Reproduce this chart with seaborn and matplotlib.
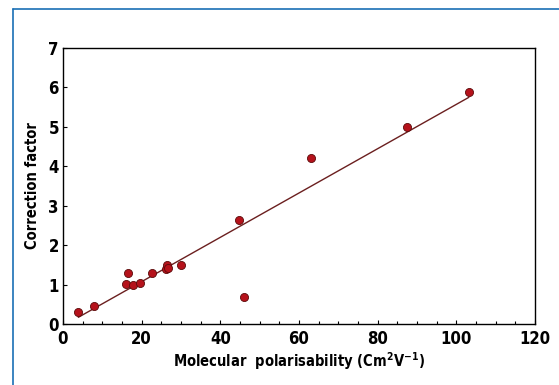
import numpy as np
import pandas as pd
import seaborn as sns
import matplotlib.pyplot as plt
from matplotlib.ticker import MultipleLocator
from matplotlib.lines import Line2D

# donnees
polarisability = [3.7, 8.0, 16.1, 16.5, 17.7, 19.6, 22.7, 26.1, 26.4, 26.6, 30.1, 44.7, 46.1, 63.0, 87.5, 103.2]
correction = [0.30, 0.46, 1.01, 1.29, 0.99, 1.05, 1.29, 1.39, 1.50, 1.43, 1.50, 2.65, 0.68, 4.20, 5.00, 5.89]

# droite de tendance (extremites)
fit_x = [3.9, 103.2]
fit_y = [0.17, 5.75]

df = pd.DataFrame({'x': polarisability, 'y': correction})
fit = pd.DataFrame({'x': fit_x, 'y': fit_y})

sns.set_style('white')
plt.rcParams['font.family'] = ['DejaVu Sans']
plt.rcParams['font.stretch'] = 'condensed'
plt.rcParams['font.weight'] = 'bold'
plt.rcParams['text.color'] = 'black'
plt.rcParams['axes.labelcolor'] = 'black'
plt.rcParams['xtick.color'] = 'black'
plt.rcParams['ytick.color'] = 'black'

fig = plt.figure(figsize=(5.59, 3.85), dpi=100)
ax = fig.add_axes([0.1127, 0.1584, 0.8443, 0.7169])

sns.lineplot(data=fit, x='x', y='y', color='#6b1f1f', linewidth=1.0, ax=ax)
sns.scatterplot(data=df, x='x', y='y', color='#b5121b', edgecolor='#5a0a0a',
                linewidth=0.6, s=34, zorder=3, ax=ax)

ax.set_xlim(0, 120)
ax.set_ylim(0, 7)
ax.xaxis.set_major_locator(MultipleLocator(20))
ax.xaxis.set_minor_locator(MultipleLocator(5))
ax.yaxis.set_major_locator(MultipleLocator(1))
ax.tick_params(axis='both', which='both', direction='in', bottom=True, left=True,
               labelsize=12)
ax.tick_params(axis='x', pad=4)
ax.tick_params(axis='y', pad=3)
ax.tick_params(which='major', length=3, width=0.8)
ax.tick_params(which='minor', length=2, width=0.8)
for s in ax.spines.values():
    s.set_color('black')
    s.set_linewidth(1.0)

ax.set_xlabel('Molecular  polarisability (Cm$^{2}$V$^{-1}$)', fontsize=10.5, fontweight='bold', labelpad=2)
ax.set_ylabel('Correction factor', fontsize=10.5, fontweight='bold', labelpad=6)

# cadre bleu (haut et gauche)
fig.add_artist(Line2D([0.0227, 0.0227], [0, 0.977], color='#1a6fb5', linewidth=1.2))
fig.add_artist(Line2D([0.0227, 1.0], [0.977, 0.977], color='#1a6fb5', linewidth=1.2))

plt.savefig('out.png', dpi=100)
